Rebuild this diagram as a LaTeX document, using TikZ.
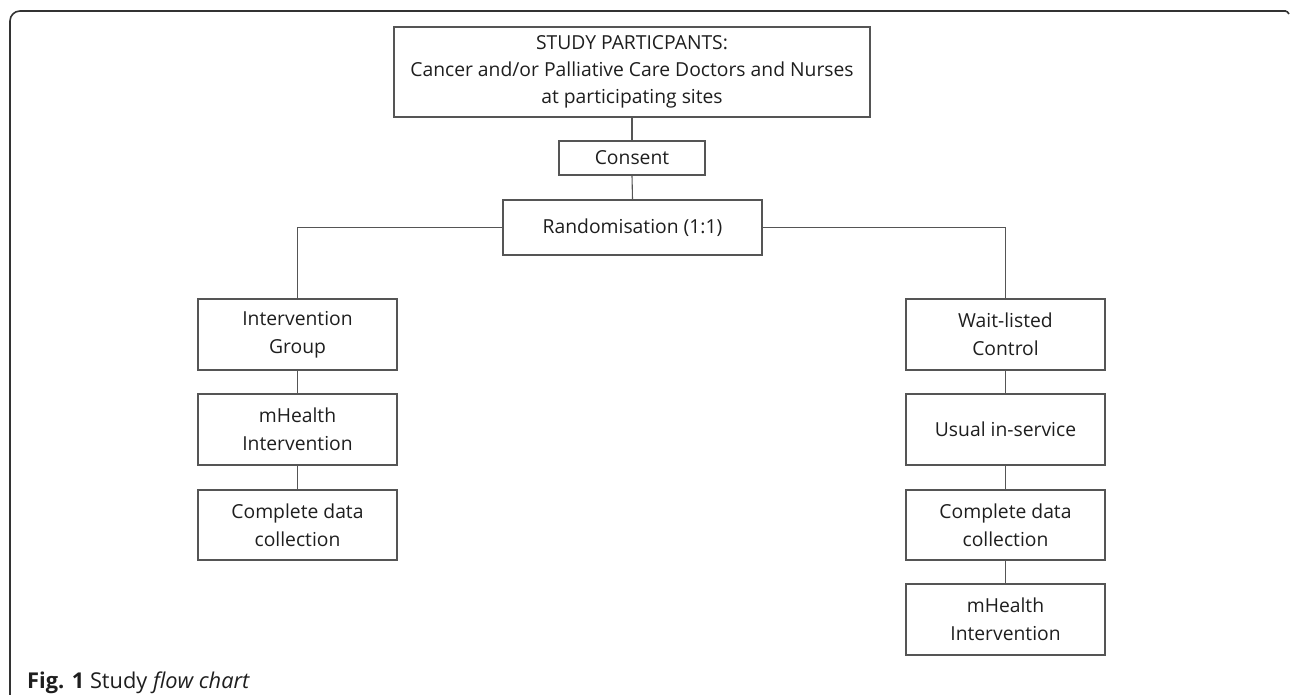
\documentclass[tikz,border=0pt]{standalone}
\usepackage{fontspec}
\setmainfont{Open Sans}
\definecolor{boxline}{HTML}{555555}
\definecolor{txt}{HTML}{1E1E1E}
\definecolor{frame}{HTML}{333333}
\begin{document}
\begin{tikzpicture}[x=1pt,y=-1pt,
  box/.style={draw=boxline,line width=1.1pt,rectangle,inner sep=0pt,align=center,
    text=txt,font=\fontsize{19.3}{28}\selectfont},
  link/.style={draw=boxline,line width=1.1pt}]
\useasboundingbox (0,0) rectangle (1290,695);
% figure frame
\draw[frame,line width=1.6pt,rounded corners=10pt] (10,695) -- (10,11) -- (1286,11);
\draw[frame,line width=1.6pt] (1285,11) to[out=0,in=120] (1289,14);
% nodes
\node[box,minimum width=476pt,minimum height=90pt,font=\fontsize{19.3}{27}\selectfont] (top) at (632,72)
  {STUDY PARTICPANTS:\\Cancer and/or Palliative Care Doctors and Nurses\\at participating sites};
\node[box,minimum width=146pt,minimum height=34pt] (consent) at (632,158) {Consent};
\node[box,minimum width=259pt,minimum height=55pt] (rand) at (632.5,227.5) {Randomisation (1:1)};
\node[box,minimum width=199pt,minimum height=71pt] (ig) at (297.5,334.5) {Intervention\\Group};
\node[box,minimum width=199pt,minimum height=71pt] (mh1) at (297.5,429.5) {mHealth\\Intervention};
\node[box,minimum width=199pt,minimum height=70pt] (cd1) at (297.5,525) {Complete data\\collection};
\node[box,minimum width=199pt,minimum height=71pt] (wl) at (1005.5,334.5) {Wait-listed\\Control};
\node[box,minimum width=199pt,minimum height=71pt] (us) at (1005.5,429.5) {Usual in-service};
\node[box,minimum width=199pt,minimum height=70pt] (cd2) at (1005.5,525) {Complete data\\collection};
\node[box,minimum width=199pt,minimum height=71pt] (mh2) at (1005.5,619.5) {mHealth\\Intervention};
% connectors
\draw[link] (top.south) -- (consent.north);
\draw[link] (consent.south) -- (rand.north);
\draw[link] (rand.west) -| (ig.north);
\draw[link] (rand.east) -| (wl.north);
\draw[link] (ig.south) -- (mh1.north);
\draw[link] (mh1.south) -- (cd1.north);
\draw[link] (wl.south) -- (us.north);
\draw[link] (us.south) -- (cd2.north);
\draw[link] (cd2.south) -- (mh2.north);
% caption
\node[anchor=base west,inner sep=0pt,text=txt,font=\fontsize{21.8}{26}\selectfont] (cap) at (27,688)
  {\textbf{Fig. 1} Study \textit{flow chart}};
\end{tikzpicture}
\end{document}
